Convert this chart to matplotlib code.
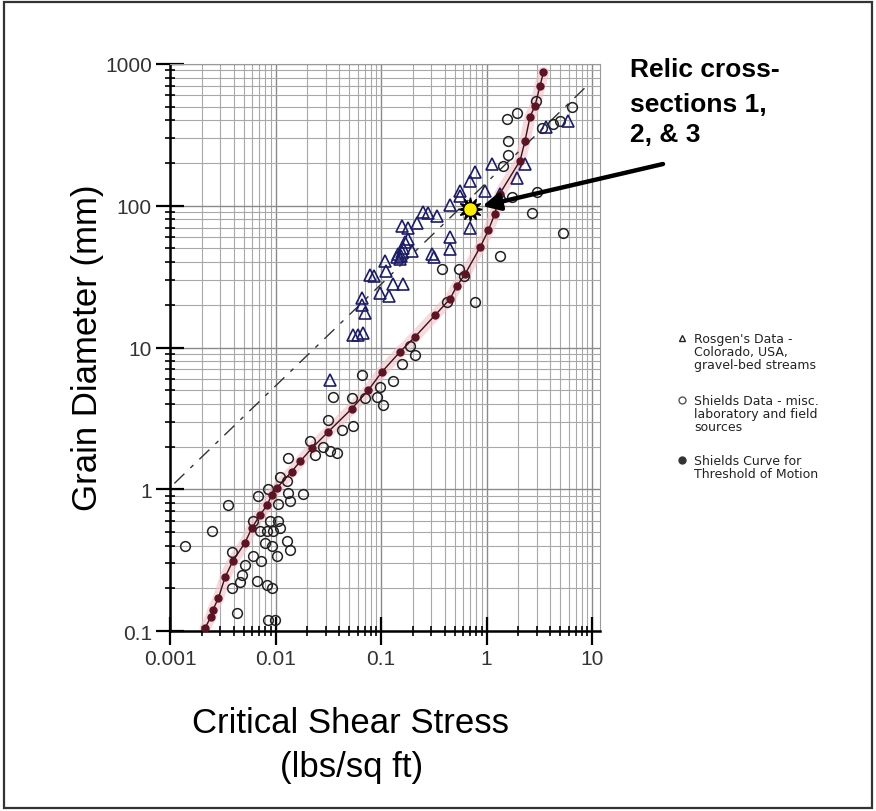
import matplotlib
matplotlib.use("Agg")
import matplotlib.pyplot as plt
from matplotlib.patches import Rectangle
from matplotlib.ticker import LogLocator, FixedLocator, FixedFormatter, NullFormatter

plt.rcParams['font.family'] = ['Liberation Sans', 'DejaVu Sans']

# Shields curve for threshold of motion (filled dots)
shields_curve_x = [0.00215, 0.00243, 0.00254, 0.00287, 0.00333, 0.00393, 0.00514, 0.00595,
                   0.00714, 0.0083, 0.0092, 0.0103, 0.0142, 0.0171, 0.0220, 0.0317, 0.0528,
                   0.0758, 0.1015, 0.151, 0.210, 0.325, 0.451, 0.52, 0.627, 0.87, 1.04, 1.20,
                   1.34, 2.08, 2.32, 2.58, 2.88, 3.22, 3.46]
shields_curve_y = [0.105, 0.125, 0.14, 0.17, 0.24, 0.31, 0.42, 0.53, 0.66, 0.77, 0.91, 1.02,
                   1.33, 1.57, 1.94, 2.55, 3.7, 5.0, 6.7, 9.3, 11.9, 16.9, 22, 27, 33, 51, 67,
                   88, 122, 208, 288, 422, 508, 703, 874]

# Shields data - misc. laboratory and field sources (open circles)
shields_data_x = [0.00139, 0.0025, 0.00355, 0.0182, 0.0212, 0.0237, 0.0282, 0.0329, 0.0383,
                  0.0131, 0.0110, 0.0129, 0.0085, 0.0068, 0.0131, 0.0137, 0.0106, 0.0089,
                  0.0106, 0.0061, 0.0095, 0.0083, 0.0110, 0.0071, 0.0080, 0.0093, 0.0129,
                  0.0137, 0.0061, 0.0103, 0.0073, 0.0039, 0.0051, 0.0048, 0.0046, 0.0039,
                  0.0067, 0.0083, 0.0093, 0.0043, 0.0085, 0.0099,
                  0.42, 0.78, 0.21, 0.188, 0.158, 0.130, 0.098, 0.066, 0.092, 0.104, 0.071,
                  0.053, 0.035, 0.054, 0.043, 0.0315, 0.38, 0.55, 0.61, 1.34, 6.46, 4.27,
                  4.98, 3.36, 2.95, 1.56, 1.95, 1.60, 1.60, 1.43, 3.01, 2.70, 5.3, 1.75]
shields_data_y = [0.40, 0.51, 0.77, 0.92, 2.2, 1.74, 2.0, 1.85, 1.8, 1.65, 1.23, 1.14, 1.0,
                  0.89, 0.94, 0.82, 0.79, 0.60, 0.60, 0.60, 0.51, 0.51, 0.53, 0.51, 0.42,
                  0.40, 0.43, 0.37, 0.34, 0.34, 0.31, 0.36, 0.29, 0.25, 0.22, 0.20, 0.225,
                  0.21, 0.20, 0.134, 0.12, 0.12,
                  21, 21, 8.8, 10.3, 7.7, 5.8, 5.3, 6.4, 4.5, 3.9, 4.4, 4.4, 4.5, 2.8, 2.6,
                  3.1, 36, 36, 32, 44, 500, 378, 397, 354, 549, 410, 450, 287, 229, 191,
                  125, 89, 64.5, 116]

# Rosgen's data - Colorado, USA, gravel-bed streams (open triangles)
rosgen_x = [0.78, 0.70, 0.56, 0.56, 0.45, 0.25, 0.28, 0.34, 0.22, 0.158, 0.18, 0.70, 0.18,
            0.169, 0.45, 0.45, 0.197, 0.158, 0.142, 0.151, 0.109, 0.305, 0.318, 0.112, 0.079,
            0.086, 0.130, 0.162, 0.098, 0.119, 0.066, 0.066, 0.071, 0.054, 0.061, 0.068,
            0.033, 1.13, 0.97, 1.95, 2.32, 5.9, 1.34, 3.7, 0.145, 0.155, 0.16]
rosgen_y = [173, 150, 128, 118, 102, 91, 89, 85, 75, 72, 70, 70, 58.6, 55.7, 60.5, 49.8,
            48.2, 47.4, 43.7, 42.4, 41, 45.9, 43.7, 34.8, 32.7, 32.1, 28.2, 28.2, 24.4, 23.2,
            22.5, 19.8, 17.4, 12.2, 12.2, 12.6, 5.9, 198, 128, 157, 198, 397, 122, 360,
            46, 44, 50]

# fitted line through Rosgen's data
rosgen_fit_x = [0.0011, 9.2]
rosgen_fit_y = [1.1, 715]

# relic cross-sections 1, 2 & 3
relic_x = [0.70]
relic_y = [95]

x_ticks = [0.001, 0.01, 0.1, 1, 10]
x_labels = ["0.001", "0.01", "0.1", "1", "10"]
y_ticks = [0.1, 1, 10, 100, 1000]
y_labels = ["0.1", "1", "10", "100", "1000"]

W, H = 876, 812
fig = plt.figure(figsize=(W / 100, H / 100), dpi=100)
fig.patch.set_facecolor("white")
ax = fig.add_axes([170 / W, 1 - 632 / H, 430 / W, 567 / H])

ax.set_xscale("log")
ax.set_yscale("log")
ax.set_xlim(0.001, 11.9)
ax.set_ylim(0.1, 1000)

ax.xaxis.set_major_locator(FixedLocator(x_ticks))
ax.xaxis.set_major_formatter(FixedFormatter(x_labels))
ax.yaxis.set_major_locator(FixedLocator(y_ticks))
ax.yaxis.set_major_formatter(FixedFormatter(y_labels))
ax.xaxis.set_minor_locator(LogLocator(base=10, subs=range(2, 10), numticks=20))
ax.yaxis.set_minor_locator(LogLocator(base=10, subs=range(2, 10), numticks=20))
ax.xaxis.set_minor_formatter(NullFormatter())
ax.yaxis.set_minor_formatter(NullFormatter())

ax.grid(which="major", color="#8a8a8a", lw=1.0)
ax.grid(which="minor", color="#a8a8a8", lw=0.8)
ax.set_axisbelow(True)

ax.tick_params(which="major", direction="inout", length=20, width=1.6,
               labelsize=15, labelcolor="#333333", pad=3, top=False, right=False)
ax.tick_params(which="minor", direction="inout", length=7, width=1.2,
               top=False, right=False)
for side in ("left", "bottom"):
    ax.spines[side].set_color("black")
    ax.spines[side].set_linewidth(1.8)
for side in ("top", "right"):
    ax.spines[side].set_color("#9a9a9a")
    ax.spines[side].set_linewidth(0.8)

# pink band behind the Shields curve
ax.plot(shields_curve_x, shields_curve_y, color="#f1c2c8", lw=8, alpha=0.6,
        solid_capstyle="round", zorder=2)
ax.plot(rosgen_fit_x, rosgen_fit_y, color="#333333", lw=1.0, dashes=(10, 6, 3, 6), zorder=3)
ax.plot(shields_data_x, shields_data_y, "o", mfc="none", mec="#222222", ms=7, mew=1.1,
        zorder=4)
ax.plot(rosgen_x, rosgen_y, "^", mfc="none", mec="#1d1d66", ms=8, mew=1.2, zorder=4)
ax.plot(shields_curve_x, shields_curve_y, "-o", color="#3a1018", lw=1.0,
        mfc="#5c1424", mec="#5c1424", ms=5, zorder=5)

# relic cross-sections marker (sun)
ax.plot(relic_x, relic_y, marker=(12, 1, 0), color="black", ms=17, zorder=6, ls="none")
ax.plot(relic_x, relic_y, "o", mfc="#ffee00", mec="#ffee00", ms=8, zorder=7)

ax.annotate("", xy=(relic_x[0], relic_y[0]), xycoords="data",
            xytext=(663 / W, 1 - 165 / H), textcoords="figure fraction",
            arrowprops=dict(arrowstyle="-|>", color="black", lw=3.2, mutation_scale=26,
                            shrinkA=0, shrinkB=9),
            annotation_clip=False, zorder=8)

for line, base in [("Relic cross-", 77), ("sections 1,", 112), ("2, & 3", 142)]:
    fig.text(630 / W, 1 - base / H, line, fontsize=19, fontweight="bold",
             ha="left", va="baseline")

# axis titles
fig.text(88 / W, 1 - 348 / H, "Grain Diameter (mm)", rotation=90, fontsize=25,
         ha="center", va="center")
fig.text(350 / W, 1 - 733 / H, "Critical Shear Stress", fontsize=25, ha="center",
         va="baseline")
fig.text(352 / W, 1 - 777 / H, "(lbs/sq ft)", fontsize=25, ha="center", va="baseline")

# legend drawn as in the original
legend_items = [
    ("^", "none", "#222222", "Rosgen's Data -\nColorado, USA,\ngravel-bed streams", 339),
    ("o", "none", "#555555", "Shields Data - misc.\nlaboratory and field\nsources", 401),
    ("o", "#333333", "#333333", "Shields Curve for\nThreshold of Motion", 461),
]
for marker, face, edge, label, ypix in legend_items:
    fig.lines.append(plt.Line2D([682 / W], [1 - ypix / H], marker=marker, mfc=face, mec=edge,
                                ms=5, mew=1.0, ls="none", transform=fig.transFigure))
    fig.text(694 / W, 1 - (ypix - 6) / H, label, fontsize=9, color="#222222",
             ha="left", va="top", linespacing=1.0, family=["DejaVu Sans"])

# outer frame
fig.patches.append(Rectangle((0.005, 0.004), 0.99, 0.992, transform=fig.transFigure,
                             fill=False, ec="#333333", lw=1.6))

fig.savefig("out.png", dpi=100)
